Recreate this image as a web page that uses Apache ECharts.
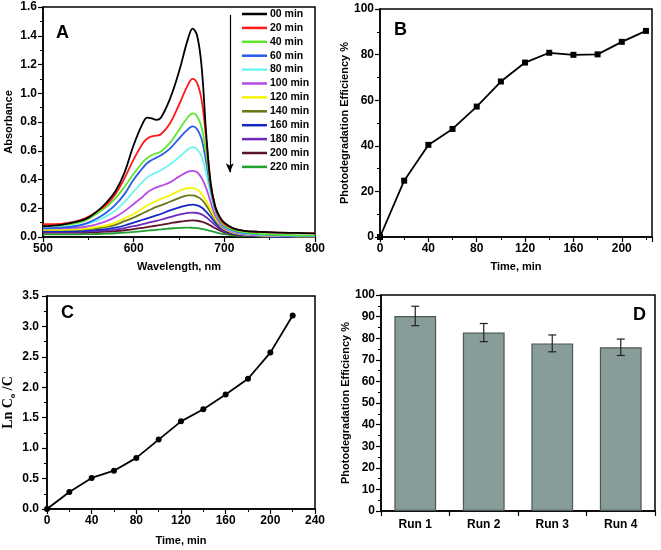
<!DOCTYPE html>
<html><head><meta charset="utf-8">
<script src="https://cdn.jsdelivr.net/npm/echarts@6/dist/echarts.min.js"></script>
<style>html,body{margin:0;padding:0;background:#fff}#c{width:661px;height:550px}</style>
</head><body><div id="c"></div>
<script>
// ---------- Panel A: UV-vis spectra ----------
const wavelength = [500,520,540,550,560,570,580,590,600,610,615,620,625,630,640,650,660,665,670,675,680,685,690,695,700,710,720,740,760,780,800];
const abs00  = [0.075,0.085,0.11,0.135,0.18,0.24,0.32,0.45,0.64,0.79,0.83,0.825,0.815,0.83,0.96,1.15,1.38,1.45,1.40,1.18,0.72,0.37,0.21,0.14,0.10,0.06,0.045,0.035,0.03,0.028,0.025];
const abs20  = [0.09,0.092,0.115,0.14,0.18,0.225,0.30,0.41,0.54,0.65,0.685,0.70,0.705,0.715,0.79,0.92,1.06,1.10,1.07,0.95,0.68,0.37,0.21,0.13,0.09,0.06,0.045,0.035,0.03,0.028,0.025];
const abs40  = [0.08,0.082,0.10,0.125,0.165,0.21,0.27,0.35,0.44,0.52,0.55,0.57,0.582,0.595,0.655,0.745,0.835,0.86,0.84,0.76,0.58,0.35,0.20,0.12,0.08,0.05,0.035,0.02,0.015,0.012,0.01];
const abs60  = [0.06,0.065,0.08,0.10,0.13,0.17,0.225,0.30,0.40,0.48,0.515,0.535,0.552,0.568,0.615,0.685,0.75,0.77,0.75,0.68,0.52,0.33,0.19,0.115,0.075,0.045,0.03,0.018,0.012,0.01,0.008];
const abs80  = [0.07,0.07,0.08,0.095,0.115,0.145,0.185,0.245,0.315,0.385,0.415,0.435,0.45,0.465,0.505,0.555,0.61,0.625,0.61,0.56,0.44,0.30,0.18,0.11,0.07,0.04,0.025,0.015,0.01,0.008,0.006];
const abs100 = [0.06,0.06,0.065,0.075,0.09,0.11,0.14,0.18,0.23,0.28,0.31,0.33,0.345,0.355,0.38,0.42,0.455,0.46,0.45,0.41,0.34,0.24,0.15,0.095,0.06,0.035,0.02,0.012,0.008,0.006,0.005];
const abs120 = [0.05,0.05,0.055,0.06,0.07,0.08,0.10,0.13,0.16,0.20,0.22,0.235,0.25,0.265,0.29,0.32,0.34,0.34,0.33,0.30,0.25,0.19,0.13,0.085,0.055,0.03,0.018,0.01,0.007,0.005,0.004];
const abs140 = [0.05,0.05,0.05,0.055,0.06,0.07,0.085,0.11,0.135,0.165,0.18,0.195,0.21,0.22,0.245,0.27,0.29,0.29,0.28,0.26,0.22,0.17,0.12,0.08,0.05,0.03,0.018,0.01,0.007,0.005,0.004];
const abs160 = [0.04,0.04,0.04,0.045,0.05,0.055,0.065,0.08,0.10,0.12,0.13,0.14,0.15,0.16,0.185,0.205,0.222,0.225,0.22,0.205,0.175,0.14,0.10,0.07,0.045,0.025,0.015,0.008,0.005,0.004,0.003];
const abs180 = [0.035,0.035,0.035,0.04,0.042,0.046,0.052,0.062,0.075,0.09,0.097,0.105,0.112,0.12,0.138,0.155,0.168,0.17,0.167,0.157,0.137,0.11,0.082,0.058,0.04,0.022,0.013,0.007,0.005,0.004,0.003];
const abs200 = [0.03,0.03,0.03,0.032,0.034,0.037,0.041,0.047,0.055,0.064,0.069,0.074,0.079,0.084,0.095,0.106,0.113,0.115,0.113,0.107,0.095,0.079,0.061,0.045,0.032,0.018,0.011,0.006,0.004,0.003,0.002];
const abs220 = [0.018,0.018,0.019,0.02,0.021,0.023,0.026,0.03,0.035,0.041,0.044,0.047,0.05,0.053,0.059,0.064,0.065,0.064,0.062,0.057,0.05,0.042,0.034,0.026,0.02,0.012,0.008,0.004,0.003,0.002,0.002];
const spectraNames = ['00 min','20 min','40 min','60 min','80 min','100 min','120 min','140 min','160 min','180 min','200 min','220 min'];
const spectraValues = [abs00,abs20,abs40,abs60,abs80,abs100,abs120,abs140,abs160,abs180,abs200,abs220];
const spectraColors = ['#000000','#ff1a1a','#5ee82a','#2a5ae8','#6ff5ee','#b84ae8','#f5f500','#687818','#1428c8','#7028b8','#5a1428','#20a030'];
const arrowFrom = [706, 1.545];
const arrowTo = [706, 0.45];

// ---------- Panel B: efficiency vs time ----------
const timeMin = [0,20,40,60,80,100,120,140,160,180,200,220];
const efficiency = [0,24.7,40.4,47.4,57.2,68.2,76.5,80.8,79.9,80.1,85.6,90.4];

// ---------- Panel C: ln(C0/C) vs time ----------
const lnC0C = [0,0.28,0.51,0.63,0.84,1.14,1.44,1.64,1.88,2.14,2.57,3.18];

// ---------- Panel D: reuse runs ----------
const runs = ['Run 1','Run 2','Run 3','Run 4'];
const runEfficiency = [90.3,82.6,77.6,75.8];
const runError = [4.5,4.2,3.9,3.8];

const FONT = "'Liberation Sans', Arial, sans-serif";

function baseAxis(extra){
  const a = {
    axisLine:{show:true,onZero:false,lineStyle:{color:'#000',width:1.5}},
    axisTick:{show:true,inside:false,length:5,lineStyle:{color:'#000',width:1.2}},
    minorTick:{show:true,splitNumber:2,length:3,lineStyle:{color:'#000',width:1}},
    splitLine:{show:false},
    axisLabel:{color:'#000',fontWeight:'bold',fontSize:12,fontFamily:FONT,margin:6},
    nameLocation:'middle',
    nameTextStyle:{color:'#000',fontWeight:'bold',fontSize:11,fontFamily:FONT}
  };
  return Object.assign(a, extra);
}

const gridStyle = {show:true,borderColor:'#000',borderWidth:1.5,containLabel:false};

const series = [];
spectraNames.forEach((n,i)=>{
  const s = {
    name:n, type:'line', xAxisIndex:0, yAxisIndex:0, smooth:0.4, showSymbol:false,
    data: wavelength.map((w,j)=>[w, spectraValues[i][j]]),
    lineStyle:{color:spectraColors[i],width:1.8}, itemStyle:{color:spectraColors[i]},
    z: 10 - i*0.1
  };
  if(i===0){
    s.markLine = {silent:true,symbol:['none','arrow'],symbolSize:[6,9],label:{show:false},
      lineStyle:{color:'#000',width:1.2,type:'solid'},
      data:[[{coord:arrowFrom},{coord:arrowTo}]]};
  }
  series.push(s);
});
series.push({type:'line',xAxisIndex:1,yAxisIndex:1,data:timeMin.map((t,i)=>[t,efficiency[i]]),
  symbol:'rect',symbolSize:6,showSymbol:true,lineStyle:{color:'#000',width:1.8},itemStyle:{color:'#000'}});
series.push({type:'line',xAxisIndex:2,yAxisIndex:2,data:timeMin.map((t,i)=>[t,lnC0C[i]]),
  symbol:'circle',symbolSize:6,showSymbol:true,lineStyle:{color:'#000',width:1.8},itemStyle:{color:'#000'}});
series.push({type:'bar',xAxisIndex:3,yAxisIndex:3,data:runEfficiency,barWidth:'61%',
  itemStyle:{color:'#889c99',borderColor:'#4e5957',borderWidth:1.2}});
series.push({type:'custom',xAxisIndex:3,yAxisIndex:3,z:5,
  data: runs.map((r,i)=>[i, runEfficiency[i]+runError[i], runEfficiency[i]-runError[i]]),
  renderItem:function(params, api){
    const hi = api.coord([api.value(0), api.value(1)]);
    const lo = api.coord([api.value(0), api.value(2)]);
    const c = 4;
    const st = {stroke:'#222',lineWidth:1.2};
    return {type:'group',children:[
      {type:'line',shape:{x1:hi[0],y1:hi[1],x2:lo[0],y2:lo[1]},style:st},
      {type:'line',shape:{x1:hi[0]-c,y1:hi[1],x2:hi[0]+c,y2:hi[1]},style:st},
      {type:'line',shape:{x1:lo[0]-c,y1:lo[1],x2:lo[0]+c,y2:lo[1]},style:st}
    ]};
  }});

const option = {
  animation:false,
  backgroundColor:'#fff',
  textStyle:{fontFamily:FONT},
  legend:{data:spectraNames,orient:'vertical',left:242,top:8,padding:0,itemWidth:25,itemHeight:2.5,itemGap:1.9,icon:'rect',
    textStyle:{fontSize:10.5,fontWeight:'bold',color:'#000',fontFamily:FONT,lineHeight:12,padding:[0,0,0,-2]}},
  grid:[
    Object.assign({left:43,top:7,width:272,height:230},gridStyle),
    Object.assign({left:380,top:9,width:272,height:228},gridStyle),
    Object.assign({left:45,top:296,width:270,height:213},gridStyle),
    Object.assign({left:381,top:295,width:274,height:216},gridStyle)
  ],
  xAxis:[
    baseAxis({type:'value',gridIndex:0,min:500,max:800,interval:100,name:'Wavelength, nm',nameGap:24}),
    baseAxis({type:'value',gridIndex:1,min:0,max:225,interval:40,name:'Time, min',nameGap:24,
      axisLabel:{color:'#000',fontWeight:'bold',fontSize:12,fontFamily:FONT,margin:6,formatter:v=> (v%40===0 && v<=200)? String(v):''}}),
    baseAxis({type:'value',gridIndex:2,min:0,max:240,interval:40,name:'Time, min',nameGap:26}),
    baseAxis({type:'category',gridIndex:3,data:runs,minorTick:{show:false},
      axisTick:{show:true,inside:false,length:5,alignWithLabel:false,lineStyle:{color:'#000',width:1.2}},
      axisLabel:{color:'#000',fontWeight:'bold',fontSize:12,fontFamily:FONT,margin:8}})
  ],
  yAxis:[
    baseAxis({type:'value',gridIndex:0,min:0,max:1.6,interval:0.2,name:'Absorbance',nameGap:29,
      axisLabel:{color:'#000',fontWeight:'bold',fontSize:12,fontFamily:FONT,margin:6,formatter:v=>v.toFixed(1)}}),
    baseAxis({type:'value',gridIndex:1,min:0,max:100,interval:20,name:'Photodegradation Efficiency %',nameGap:29}),
    baseAxis({type:'value',gridIndex:2,min:0,max:3.5,interval:0.5,name:'{a|Ln C}{b|o}{a| /C}',nameGap:30,
      axisLabel:{color:'#000',fontWeight:'bold',fontSize:12,fontFamily:FONT,margin:8,formatter:v=>v.toFixed(1)},
      nameTextStyle:{color:'#000',rich:{
        a:{fontFamily:"'Liberation Serif', 'Times New Roman', serif",fontWeight:'bold',fontSize:14,lineHeight:18,color:'#000'},
        b:{fontFamily:"'Liberation Serif', 'Times New Roman', serif",fontWeight:'bold',fontSize:9,lineHeight:10,verticalAlign:'bottom',color:'#000'}}}}),
    baseAxis({type:'value',gridIndex:3,min:0,max:100,interval:10,name:'Photodegradation Efficiency %',nameGap:30})
  ],
  graphic:[
    {type:'text',left:56,top:24,style:{text:'A',font:"bold 18px 'Liberation Sans', Arial",fill:'#000'}},
    {type:'text',left:394,top:21,style:{text:'B',font:"bold 18px 'Liberation Sans', Arial",fill:'#000'}},
    {type:'text',left:61,top:304,style:{text:'C',font:"bold 18px 'Liberation Sans', Arial",fill:'#000'}},
    {type:'text',left:633,top:306,style:{text:'D',font:"bold 18px 'Liberation Sans', Arial",fill:'#000'}}
  ],
  series:series
};
const chart = echarts.init(document.getElementById('c'),null,{renderer:'canvas'});
chart.setOption(option);
</script></body></html>
